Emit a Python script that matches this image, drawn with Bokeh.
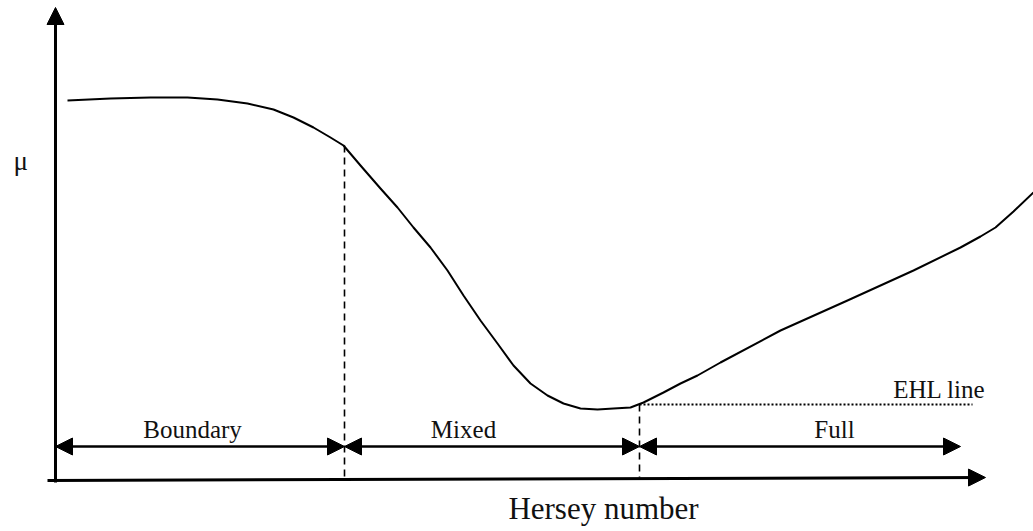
from bokeh.plotting import figure
from bokeh.models import Range1d, Arrow, NormalHead, ColumnDataSource
from bokeh.core.properties import value
from bokeh.embed import file_html
from bokeh.resources import INLINE

# Stribeck curve: friction coefficient vs Hersey number (schematic units)
hersey = [67, 110, 150, 187, 217, 247, 273, 293, 313, 330, 343, 360, 380, 397,
          413, 430, 447, 463, 480, 497, 513, 530, 547, 563, 580, 597, 613, 630,
          643, 663, 680, 697, 720, 780, 847, 913, 960, 980, 995, 1013, 1033]
mu = [431, 433, 434, 434, 432, 428, 422, 414, 404, 394, 386, 366, 343, 324,
      304, 284, 261, 236, 211, 188, 166, 148, 136, 128, 123, 122, 123, 124,
      129, 139, 148, 156, 169, 201, 231, 261, 284, 295, 304, 320, 339]

# regime limits along the Hersey axis
regime_names = ["Boundary", "Mixed", "Full"]
regime_start = [55, 344, 639]
regime_end = [344, 639, 960]
regime_label_x = [192, 463, 834]
regime_mu_at_limit = [386, 127]   # curve height at the two regime transitions
ehl_level = 127
ehl_end = 972

# axes frame
axis_x0, axis_x1 = 47, 985
axis_y0, axis_y1 = 51, 54
yaxis_x = 55
yaxis_bottom, yaxis_top = 49, 524

label_y = 102
arrow_y = 85

FONT = value("Liberation Serif")
INK = "#111111"

p = figure(width=1033, height=531, output_backend="svg", toolbar_location=None,
           x_range=Range1d(0, 1033), y_range=Range1d(0, 531),
           min_border=0, min_border_left=0, min_border_right=0,
           min_border_top=0, min_border_bottom=0)
p.axis.visible = False
p.grid.visible = False
p.outline_line_color = None
p.background_fill_color = "white"
p.border_fill_color = "white"


def head():
    return NormalHead(size=17, fill_color="black", line_color="black", line_width=1)


# horizontal (Hersey number) axis with arrow
p.add_layout(Arrow(x_start=axis_x0, y_start=axis_y0, x_end=axis_x1, y_end=axis_y1,
                   line_width=3, line_color="black", end=head()))
# vertical (mu) axis with arrow
p.add_layout(Arrow(x_start=yaxis_x, y_start=yaxis_bottom, x_end=yaxis_x, y_end=yaxis_top,
                   line_width=3, line_color="black", end=head()))

# friction curve
p.line(hersey, mu, line_width=2, line_color="black", line_join="round")

# regime transition markers
p.segment(x0=[regime_start[1], regime_start[2]], y0=regime_mu_at_limit,
          x1=[regime_start[1], regime_start[2]], y1=[axis_y0, axis_y0 + 3],
          line_color="black", line_width=1.6, line_dash="7 5")

# EHL line
p.line([regime_start[2], ehl_end], [ehl_level, ehl_level],
       line_color="black", line_width=2, line_dash="2 2")

# regime span arrows
for xs, xe in zip(regime_start, regime_end):
    p.add_layout(Arrow(x_start=xs, y_start=arrow_y, x_end=xe, y_end=arrow_y,
                       line_width=2.5, line_color="black",
                       start=head(), end=head()))

label_src = ColumnDataSource(dict(x=regime_label_x, y=[label_y] * 3, t=regime_names))
p.text(x="x", y="y", text="t", source=label_src, text_font=FONT,
       text_font_size="25px", text_align="center", text_baseline="alphabetic",
       text_color=INK)

p.text(x=[985], y=[142], text=["EHL line"], text_font=FONT, text_font_size="25px",
       text_align="right", text_baseline="alphabetic", text_color=INK)
p.text(x=[603], y=[23], text=["Hersey number"], text_font=FONT, text_font_size="31px",
       text_align="center", text_baseline="alphabetic", text_color=INK)
p.text(x=[13], y=[371], text=["μ"], text_font=FONT, text_font_size="27px",
       text_align="left", text_baseline="alphabetic", text_color=INK)

open("out.html", "w").write(file_html(p, INLINE))
